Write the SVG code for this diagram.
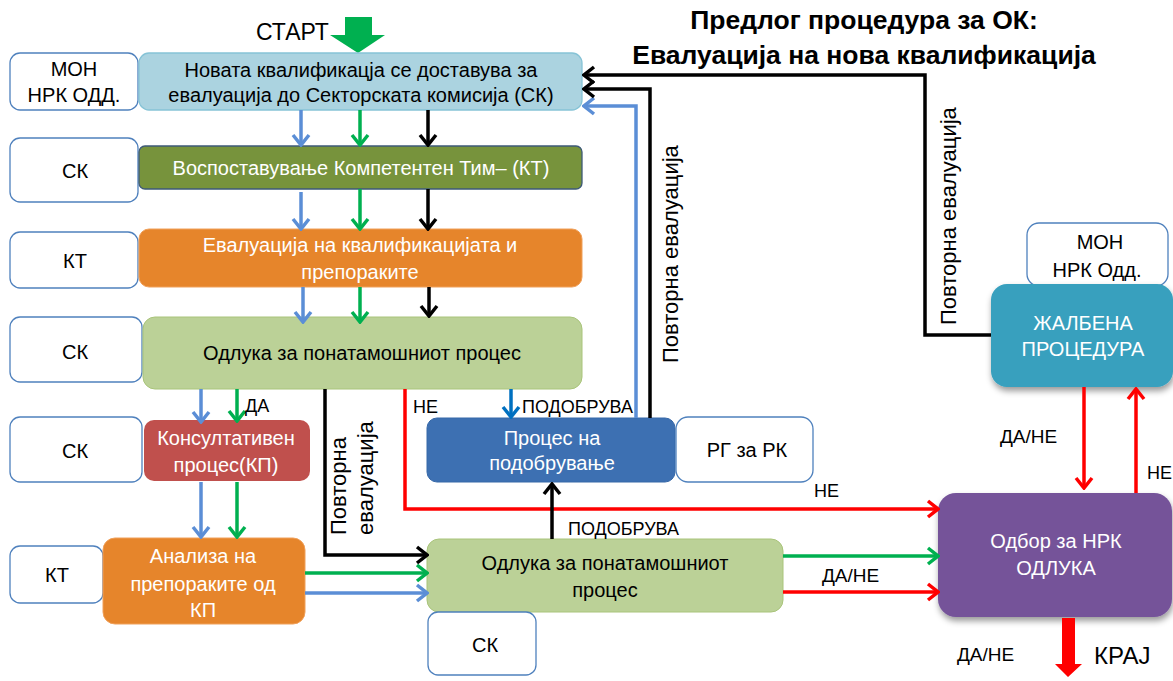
<svg xmlns="http://www.w3.org/2000/svg" width="1173" height="681" viewBox="0 0 1173 681">
<style>
text{font-family:"Liberation Sans",Arial,sans-serif;font-size:20px;fill:#000;text-anchor:middle}
.w{fill:#fff}
.lbl{font-size:18px;text-anchor:start}
.rot{font-size:22px;text-anchor:start}
.title{font-size:26.5px;font-weight:bold}
.wb{fill:#fff;stroke:#4F81BD;stroke-width:1.3}
.c{fill:none;stroke-width:3.5;stroke-linejoin:miter}
.k{stroke:#000}.b{stroke:#5B8ED6}.g{stroke:#00B050}.r{stroke:#FF0000}.db{stroke:#0070C0}
</style>
<defs>
<marker id="ak" viewBox="-14 -10 16 20" refX="0" refY="0" markerWidth="16" markerHeight="20" markerUnits="userSpaceOnUse" orient="auto"><path d="M-10,-8 L0,0 L-10,8" fill="none" stroke="#000" stroke-width="3.5"/></marker>
<marker id="ab" viewBox="-14 -10 16 20" refX="0" refY="0" markerWidth="16" markerHeight="20" markerUnits="userSpaceOnUse" orient="auto"><path d="M-10,-8 L0,0 L-10,8" fill="none" stroke="#5B8ED6" stroke-width="3.5"/></marker>
<marker id="ag" viewBox="-14 -10 16 20" refX="0" refY="0" markerWidth="16" markerHeight="20" markerUnits="userSpaceOnUse" orient="auto"><path d="M-10,-8 L0,0 L-10,8" fill="none" stroke="#00B050" stroke-width="3.5"/></marker>
<marker id="ar" viewBox="-14 -10 16 20" refX="0" refY="0" markerWidth="16" markerHeight="20" markerUnits="userSpaceOnUse" orient="auto"><path d="M-10,-8 L0,0 L-10,8" fill="none" stroke="#FF0000" stroke-width="3.5"/></marker>
<marker id="adb" viewBox="-14 -10 16 20" refX="0" refY="0" markerWidth="16" markerHeight="20" markerUnits="userSpaceOnUse" orient="auto"><path d="M-10,-8 L0,0 L-10,8" fill="none" stroke="#0070C0" stroke-width="3.5"/></marker>
<filter id="sh" x="-10%" y="-10%" width="130%" height="140%"><feDropShadow dx="1" dy="4" stdDeviation="3" flood-color="#000" flood-opacity="0.4"/></filter>
</defs>

<g id="title">
<text class="title" x="864" y="29">Предлог процедура за ОК:</text>
<text class="title" x="864" y="64">Евалуација на нова квалификација</text>
</g>

<g id="start">
<text x="256" y="40" style="font-size:23px;text-anchor:start">СТАРТ</text>
<polygon points="345,17 372,17 372,35 385,35 358,53 330,35 345,35" fill="#00B050"/>
</g>

<g id="n-mon1"><rect class="wb" x="10" y="53" width="128" height="57" rx="10"/><text x="74" y="76">МОН</text><text x="74" y="102">НРК ОДД.</text></g>
<g id="n-new"><rect x="139" y="53" width="443" height="57" rx="10" fill="#ABD3E0" stroke="#86C3D6" stroke-width="1.3"/><text x="361" y="77">Новата квалификацја се доставува за</text><text x="361" y="102">евалуација до Секторската комисија (СК)</text></g>

<g id="n-sk1"><rect class="wb" x="10" y="138" width="128" height="64" rx="10"/><text x="75" y="178">СК</text></g>
<g id="n-kt-team"><rect x="139" y="146" width="443" height="43" rx="6" fill="#77933C" stroke="#3E5A78" stroke-width="1.3"/><text class="w" x="361" y="175">Воспоставување Компетентен Тим– (КТ)</text></g>

<g id="n-kt1"><rect class="wb" x="10" y="232" width="128" height="56" rx="10"/><text x="75" y="268">КТ</text></g>
<g id="n-eval"><rect x="139" y="229" width="443" height="58" rx="10" fill="#E6852B" stroke="#F0A05A" stroke-width="1"/><text class="w" x="360" y="252">Евалуација на квалификацијата и</text><text class="w" x="360" y="279">препораките</text></g>

<g id="n-sk2"><rect class="wb" x="10" y="317" width="132" height="65" rx="10"/><text x="75" y="359">СК</text></g>
<g id="n-odl1"><rect x="143" y="317" width="439" height="72" rx="12" fill="#BBD197" stroke="#A9C47A" stroke-width="1"/><text x="362" y="360">Одлука за понатамошниот процес</text></g>

<g id="n-sk3"><rect class="wb" x="10" y="417" width="132" height="65" rx="10"/><text x="75" y="458">СК</text></g>
<g id="n-kp"><rect x="144" y="420" width="166" height="61" rx="10" fill="#C0504D"/><text class="w" x="226" y="445">Консултативен</text><text class="w" x="226" y="472">процес(КП)</text></g>

<g id="n-kt2"><rect class="wb" x="10" y="546" width="93" height="57" rx="10"/><text x="57" y="582">КТ</text></g>
<g id="n-anal"><rect x="103" y="538" width="202" height="86" rx="12" fill="#E6852B" stroke="#F0A05A" stroke-width="1"/><text class="w" x="203" y="563">Анализа на</text><text class="w" x="203" y="591">препораките од</text><text class="w" x="203" y="617">КП</text></g>

<g id="n-podob"><rect x="427" y="418" width="248" height="64" rx="10" fill="#3D70B2" stroke="#3668A8" stroke-width="1"/><text class="w" x="552" y="445">Процес на</text><text class="w" x="552" y="470">подобрување</text></g>
<g id="n-rg"><rect class="wb" x="676" y="417" width="137" height="65" rx="12"/><text x="747" y="457">РГ за РК</text></g>

<g id="n-odl2"><rect x="427" y="539" width="356" height="73" rx="12" fill="#BBD197" stroke="#A9C47A" stroke-width="1"/><text x="605" y="570">Одлука за понатамошниот</text><text x="605" y="597">процес</text></g>
<g id="n-sk4"><rect class="wb" x="428" y="612" width="108" height="63" rx="10"/><text x="485" y="652">СК</text></g>

<g id="n-mon2"><rect class="wb" x="1027" y="223" width="141" height="63" rx="12"/><text x="1100" y="249">МОН</text><text x="1097" y="277">НРК Одд.</text></g>
<g id="n-zalb"><rect x="991" y="284" width="182" height="103" rx="16" fill="#37A0BE" filter="url(#sh)"/><text class="w" x="1083" y="330">ЖАЛБЕНА</text><text class="w" x="1083" y="356">ПРОЦЕДУРА</text></g>
<g id="n-odbor"><rect x="938" y="493" width="234" height="124" rx="18" fill="#745299" filter="url(#sh)"/><text class="w" x="1056" y="548">Одбор за НРК</text><text class="w" x="1056" y="575">ОДЛУКА</text></g>

<g id="connectors">
<path class="c b" d="M301,110 V145" marker-end="url(#ab)"/>
<path class="c g" d="M360,110 V145" marker-end="url(#ag)"/>
<path class="c k" d="M428,110 V145" marker-end="url(#ak)"/>
<path class="c b" d="M301,192 V229" marker-end="url(#ab)"/>
<path class="c g" d="M360,189 V229" marker-end="url(#ag)"/>
<path class="c k" d="M428,189 V229" marker-end="url(#ak)"/>
<path class="c b" d="M303,287 V322" marker-end="url(#ab)"/>
<path class="c g" d="M360,287 V322" marker-end="url(#ag)"/>
<path class="c k" d="M429,287 V316" marker-end="url(#ak)"/>
<path class="c b" d="M201,389 V422" marker-end="url(#ab)"/>
<path class="c g" d="M237,389 V421" marker-end="url(#ag)"/>
<path class="c b" d="M201,482 V537" marker-end="url(#ab)"/>
<path class="c g" d="M237,482 V537" marker-end="url(#ag)"/>
<path class="c k" d="M325,389 V555 H427" marker-end="url(#ak)"/>
<path class="c g" d="M305,573 H427" marker-end="url(#ag)"/>
<path class="c b" d="M305,593 H427" marker-end="url(#ab)"/>
<path class="c r" d="M405,389 V509 H938" marker-end="url(#ar)"/>
<path class="c db" d="M511,389 V417" marker-end="url(#adb)"/>
<path class="c k" d="M552,539 V484" marker-end="url(#ak)"/>
<path class="c b" d="M636,418 V106 H584" marker-end="url(#ab)"/>
<path class="c k" d="M650,418 V89 H584" marker-end="url(#ak)"/>
<path class="c k" d="M991,335 H925 V75 H584" marker-end="url(#ak)"/>
<path class="c g" d="M783,556 H938" marker-end="url(#ag)"/>
<path class="c r" d="M783,592 H938" marker-end="url(#ar)"/>
<path class="c r" d="M1084,387 V488" marker-end="url(#ar)"/>
<path class="c r" d="M1136,493 V389" marker-end="url(#ar)"/>
<polygon points="1062,618 1075,618 1075,664 1082,664 1068,677 1055,664 1062,664" fill="#FF0000"/>
</g>

<g id="labels">
<text class="lbl" x="245" y="412">ДА</text>
<text class="lbl" x="413" y="413">НЕ</text>
<text class="lbl" x="522" y="413">ПОДОБРУВА</text>
<text class="lbl" x="568" y="535">ПОДОБРУВА</text>
<text class="lbl" x="814" y="497">НЕ</text>
<text class="lbl" x="822" y="582" style="font-size:19px">ДА/НЕ</text>
<text class="lbl" x="1000" y="443" style="font-size:19px">ДА/НЕ</text>
<text class="lbl" x="1147" y="479">НЕ</text>
<text class="lbl" x="957" y="661" style="font-size:19px">ДА/НЕ</text>
<text x="1094" y="664" style="font-size:24px;text-anchor:start">КРАЈ</text>
<text class="rot" transform="translate(346,535) rotate(-90)">Повторна</text>
<text class="rot" transform="translate(373,535) rotate(-90)">евалуација</text>
<text class="rot" transform="translate(678,363) rotate(-90)">Повторна евалуација</text>
<text class="rot" transform="translate(956,325) rotate(-90)">Повторна евалуација</text>
</g>
</svg>
